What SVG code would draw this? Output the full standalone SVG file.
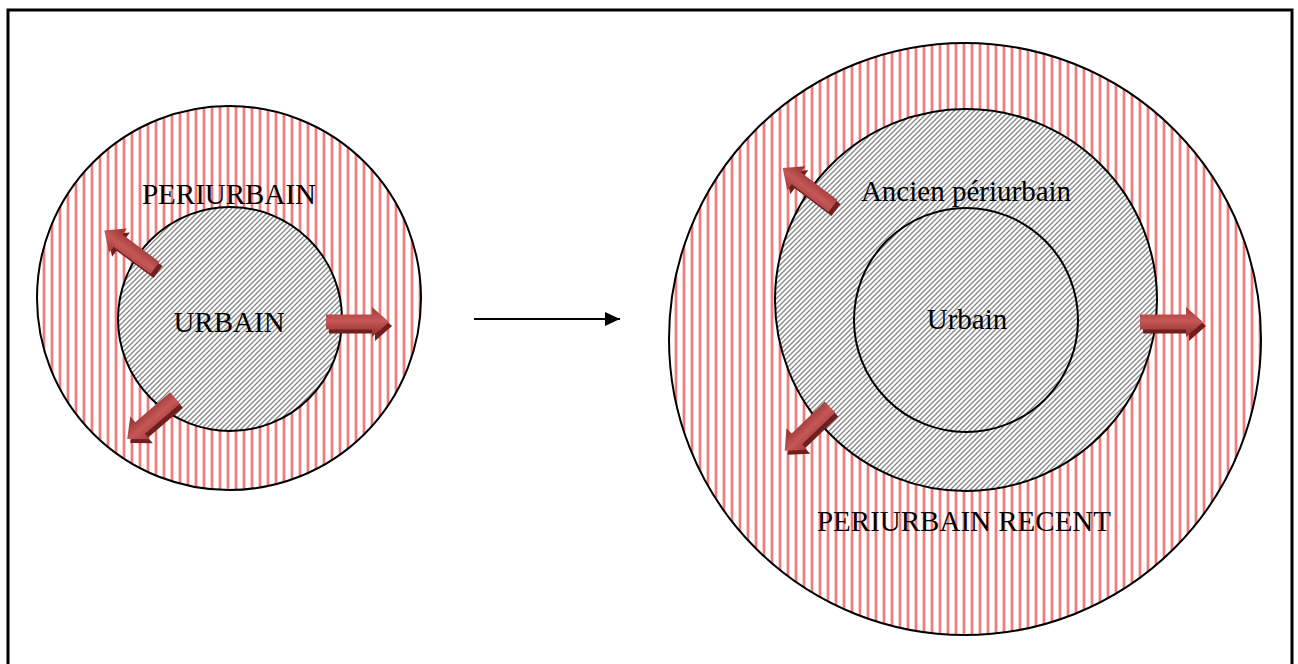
<svg xmlns="http://www.w3.org/2000/svg" xmlns:xlink="http://www.w3.org/1999/xlink" width="1298" height="664" viewBox="0 0 1298 664">
<style>
  .lbl { font-family: "Liberation Serif", "Times New Roman", serif; font-size: 29px; fill: #000; text-anchor: middle; }
  .ring { stroke: #000; stroke-width: 2; }
  .conn { stroke: #000; stroke-width: 2; fill: none; }
</style>
<defs>
  <pattern id="red" patternUnits="userSpaceOnUse" width="8" height="8">
    <rect width="8" height="8" fill="#fff"/>
    <rect x="2" y="0" width="1" height="8" fill="#fbd0d0"/>
    <rect x="3" y="0" width="2" height="8" fill="#f37a7a"/>
    <rect x="5" y="0" width="1" height="8" fill="#fbd0d0"/>
  </pattern>
  <pattern id="gray" patternUnits="userSpaceOnUse" width="5" height="5">
    <rect width="5" height="5" fill="#fff"/>
    <path d="M-1,1 L1,-1 M0,5 L5,0 M4,6 L6,4" stroke="#8a8a8a" stroke-width="1.4"/>
  </pattern>
  <linearGradient id="arrG" x1="0" y1="0" x2="0" y2="1">
    <stop offset="0" stop-color="#a33a38"/>
    <stop offset="0.45" stop-color="#c55856"/>
    <stop offset="1" stop-color="#8c2e2c"/>
  </linearGradient>
  <path id="blk" d="M0,-7.5 L46,-7.5 L46,-15 L63,0 L46,15 L46,7.5 L0,7.5 Z"/>
  <marker id="tri" viewBox="0 0 15 14" refX="15" refY="7" markerWidth="15" markerHeight="14" markerUnits="userSpaceOnUse" orient="auto">
    <path d="M0,0 L15,7 L0,14 Z" fill="#000"/>
  </marker>
</defs>

<rect x="8" y="10" width="1284" height="700" fill="#fff" stroke="#000" stroke-width="3"/>

<g id="left-periurbain">
  <circle class="ring" cx="229" cy="298" r="192" fill="url(#red)"/>
  <text class="lbl" x="229" y="204">PERIURBAIN</text>
</g>
<g id="left-urbain">
  <circle class="ring" cx="230" cy="319" r="112" fill="url(#gray)"/>
  <text class="lbl" x="229" y="332">URBAIN</text>
</g>

<g id="right-periurbain-recent">
  <circle class="ring" cx="965" cy="339" r="296" fill="url(#red)"/>
  <text class="lbl" x="964" y="531">PERIURBAIN RECENT</text>
</g>
<g id="right-ancien-periurbain">
  <circle class="ring" cx="966" cy="300" r="191" fill="url(#gray)"/>
  <text class="lbl" x="966" y="201">Ancien périurbain</text>
</g>
<g id="right-urbain">
  <circle class="ring" cx="966" cy="320" r="112" fill="url(#gray)"/>
  <text class="lbl" x="967" y="329">Urbain</text>
</g>

<g id="connectors">
  <line class="conn" x1="474" y1="319" x2="620" y2="319" marker-end="url(#tri)"/>
</g>

<g id="expansion-arrows">
  <g transform="translate(155,268) rotate(216.5)">
    <use xlink:href="#blk" href="#blk" fill="#6e1f1e" transform="rotate(-216.5) translate(3,4) rotate(216.5)"/>
    <use xlink:href="#blk" href="#blk" fill="url(#arrG)"/>
  </g>
  <g transform="translate(326,322)">
    <use xlink:href="#blk" href="#blk" fill="#6e1f1e" transform="translate(3,4)"/>
    <use xlink:href="#blk" href="#blk" fill="url(#arrG)"/>
  </g>
  <g transform="translate(175,398) rotate(139.4)">
    <use xlink:href="#blk" href="#blk" fill="#6e1f1e" transform="rotate(-139.4) translate(3,4) rotate(139.4)"/>
    <use xlink:href="#blk" href="#blk" fill="url(#arrG)"/>
  </g>
  <g transform="translate(833,206) rotate(217)">
    <use xlink:href="#blk" href="#blk" fill="#6e1f1e" transform="rotate(-217) translate(3,4) rotate(217)"/>
    <use xlink:href="#blk" href="#blk" fill="url(#arrG)"/>
  </g>
  <g transform="translate(1140,322)">
    <use xlink:href="#blk" href="#blk" fill="#6e1f1e" transform="translate(3,4)"/>
    <use xlink:href="#blk" href="#blk" fill="url(#arrG)"/>
  </g>
  <g transform="translate(830,407) rotate(136)">
    <use xlink:href="#blk" href="#blk" fill="#6e1f1e" transform="rotate(-136) translate(3,4) rotate(136)"/>
    <use xlink:href="#blk" href="#blk" fill="url(#arrG)"/>
  </g>
</g>
</svg>
